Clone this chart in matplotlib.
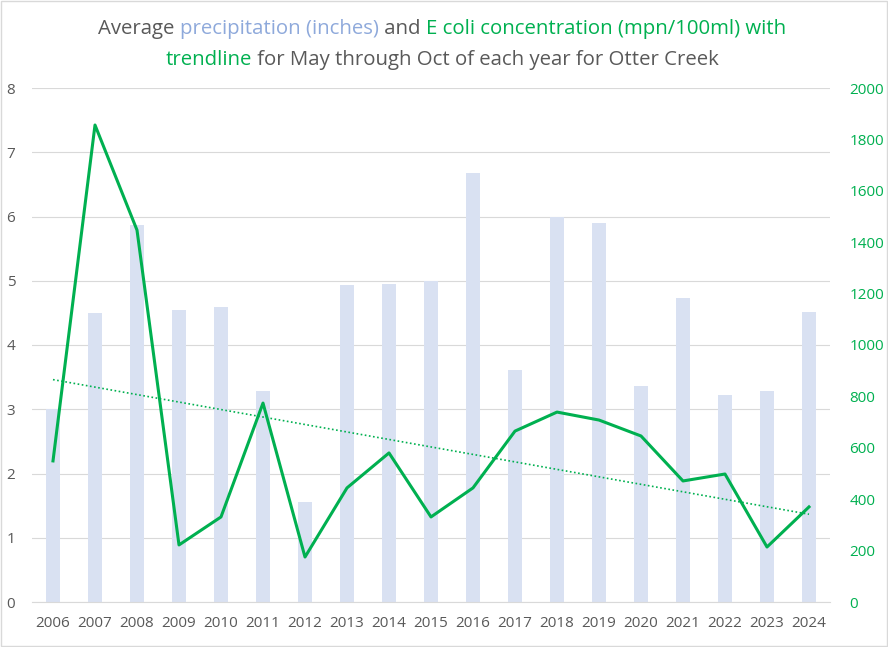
import matplotlib.pyplot as plt
import numpy as np

years = [2006, 2007, 2008, 2009, 2010, 2011, 2012, 2013, 2014, 2015,
         2016, 2017, 2018, 2019, 2020, 2021, 2022, 2023, 2024]
precip = [3.0, 4.5, 5.87, 4.55, 4.59, 3.28, 1.56, 4.93, 4.95, 5.0,
          6.68, 3.61, 6.0, 5.9, 3.36, 4.73, 3.22, 3.28, 4.51]
ecoli = [549, 1856, 1447, 222, 331, 774, 175, 444, 580, 331,
         444, 665, 739, 708, 646, 471, 498, 214, 370]

GREY = "#595959"
GREEN = "#00B050"
BLUE = "#8EA9DB"
BAR = "#D9E1F2"
FONT = "Open Sans"

fig = plt.figure(figsize=(8.88, 6.47), dpi=100)
ax = fig.add_axes([32/888, 1-602/647, (830-32)/888, (602-88)/647])
ax2 = ax.twinx()

x = np.arange(len(years))
ax.bar(x, precip, width=0.31, color=BAR, zorder=2)
ax.set_ylim(0, 8)
ax.set_xlim(-0.5, len(years) - 0.5)
ax.set_yticks(range(0, 9))
ax.yaxis.grid(True, color="#D9D9D9", linewidth=0.8, zorder=0)
ax.set_axisbelow(True)
ax.set_xticks(x)
ax.set_xticklabels([str(y) for y in years])

ax2.plot(x, ecoli, color=GREEN, linewidth=2.2, zorder=4)
k, b = np.polyfit(x, ecoli, 1)
ax2.plot(x, k * x + b, color=GREEN, linewidth=1.2, linestyle=(0, (1, 1.5)), zorder=3)
ax2.set_ylim(0, 2000)
ax2.set_yticks(range(0, 2001, 200))

for a in (ax, ax2):
    for s in a.spines.values():
        s.set_visible(False)
ax.spines["bottom"].set_visible(True)
ax.spines["bottom"].set_color("#D9D9D9")

ax.tick_params(axis="both", length=0, labelcolor=GREY, labelsize=11)
ax.tick_params(axis="x", pad=10)
ax.tick_params(axis="y", pad=12)
ax2.tick_params(axis="y", length=0, labelcolor=GREEN, labelsize=11, pad=14)
for lab in ax.get_xticklabels() + ax.get_yticklabels() + ax2.get_yticklabels():
    lab.set_fontfamily(FONT)

# multicolour title, two lines centred
lines = [
    [("Average ", GREY), ("precipitation (inches)", BLUE), (" and ", GREY),
     ("E coli concentration (mpn/100ml) with", GREEN)],
    [("trendline", GREEN), (" for May through Oct of each year for Otter Creek", GREY)],
]
ys = [29/647, 60/647]
fig.canvas.draw()
r = fig.canvas.get_renderer()
for parts, yy in zip(lines, ys):
    texts = [fig.text(0, 1 - yy, s, color=c, fontsize=14.7, fontfamily=FONT, va="center")
             for s, c in parts]
    widths = [t.get_window_extent(r).width for t in texts]
    start = (444 - 2) - sum(widths) / 2
    for t, w in zip(texts, widths):
        t.set_x(start / 888)
        start += w

fig.patches.append(plt.Rectangle((1/888, 1/647), 886/888, 645/647, transform=fig.transFigure,
                                 fill=False, edgecolor="#D9D9D9", linewidth=1))

fig.savefig("out.png", dpi=100)
